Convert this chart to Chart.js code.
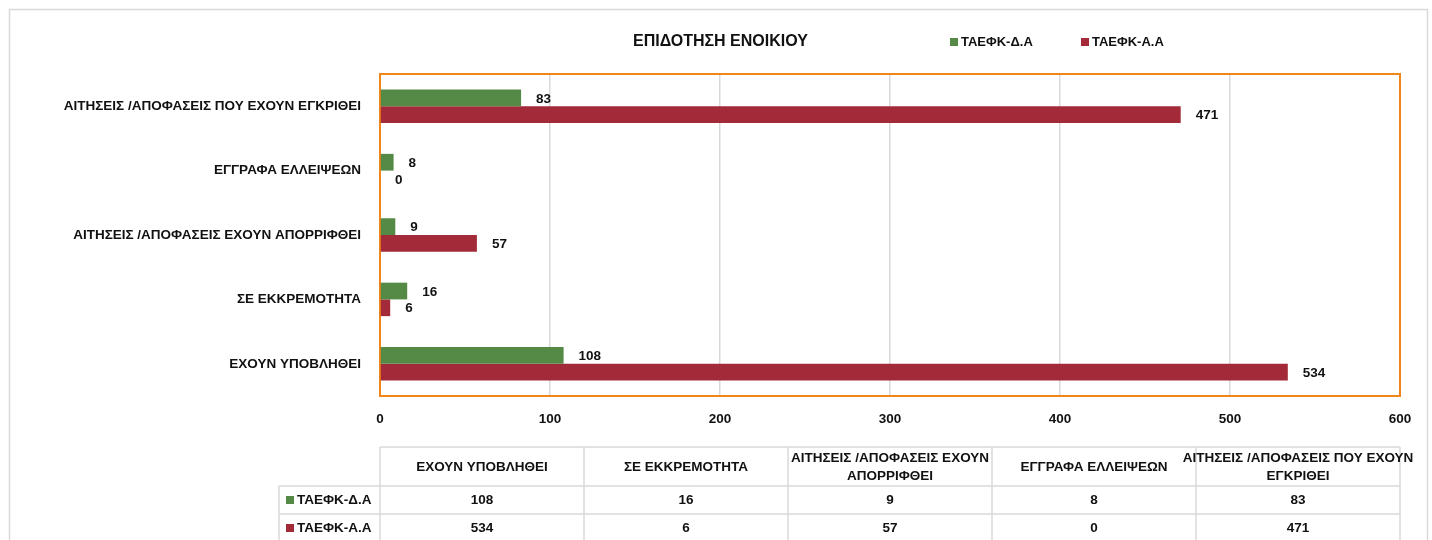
<!DOCTYPE html>
<html>
<head>
<meta charset="utf-8">
<script src="https://cdn.jsdelivr.net/npm/chart.js@4/dist/chart.umd.min.js"></script>
<style>
  html, body { margin: 0; padding: 0; background: #fff; }
  #wrap { width: 1432px; height: 540px; }
</style>
</head>
<body>
<div id="wrap"><canvas id="barChart" width="1432" height="540"></canvas></div>
<script>
// data in table order (Excel order, bottom to top in the chart)
var categories = ["ΕΧΟΥΝ ΥΠΟΒΛΗΘΕΙ", "ΣΕ ΕΚΚΡΕΜΟΤΗΤΑ", "ΑΙΤΗΣΕΙΣ /ΑΠΟΦΑΣΕΙΣ ΕΧΟΥΝ ΑΠΟΡΡΙΦΘΕΙ", "ΕΓΓΡΑΦΑ ΕΛΛΕΙΨΕΩΝ", "ΑΙΤΗΣΕΙΣ /ΑΠΟΦΑΣΕΙΣ ΠΟΥ ΕΧΟΥΝ ΕΓΚΡΙΘΕΙ"]
var seriesNames = ["ΤΑΕΦΚ-Δ.Α", "ΤΑΕΦΚ-Α.Α"]
var values_DA = [108, 16, 9, 8, 83]
var values_AA = [534, 6, 57, 0, 471]
var xTicks = [0, 100, 200, 300, 400, 500, 600]
var chartTitle = "ΕΠΙΔΟΤΗΣΗ ΕΝΟΙΚΙΟΥ"

var colors = ["#548A45", "#A32A39"]
var FONT = "'Liberation Sans', Arial, sans-serif"
var FS = 13.5
var txtColor = "#111"

function bold(size) {
  return "bold " + size + "px " + FONT
}

// plugin: frame, title, legend, plot border, data labels, table
var excelBits = {
  id: "excelBits",
  beforeDraw: function (chart) {
    var c = chart.ctx
    c.save()
    c.fillStyle = "#fff"
    c.fillRect(0, 0, chart.width, chart.height)
    c.strokeStyle = "#d9d9d9"
    c.lineWidth = 1.5
    c.strokeRect(9.5, 9.5, 1418, 545)
    // title + legend
    c.fillStyle = txtColor
    c.font = bold(16)
    c.textBaseline = "middle"
    c.textAlign = "left"
    c.fillText(chartTitle, 633, 42)
    var lx = [950, 1081]
    for (var i = 0; i < seriesNames.length; i++) {
      c.fillStyle = colors[i]
      c.fillRect(lx[i], 38, 8, 8)
      c.fillStyle = txtColor
      c.font = bold(13)
      c.fillText(seriesNames[i], lx[i] + 11, 42)
    }
    c.restore()
  },
  beforeDatasetsDraw: function (chart) {
    var a = chart.chartArea
    var c = chart.ctx
    c.save()
    c.strokeStyle = "#F08519"
    c.lineWidth = 2
    c.strokeRect(a.left, a.top, a.right - a.left, a.bottom - a.top)
    c.restore()
  },
  afterDatasetsDraw: function (chart) {
    var c = chart.ctx
    c.save()
    c.font = bold(FS)
    c.fillStyle = txtColor
    c.textAlign = "left"
    c.textBaseline = "middle"
    chart.data.datasets.forEach(function (ds, di) {
      var meta = chart.getDatasetMeta(di)
      meta.data.forEach(function (el, i) {
        c.fillText(String(ds.data[i]), el.x + 15, el.y + 1)
      })
    })
    c.restore()
  },
  afterDraw: function (chart) {
    var a = chart.chartArea
    var c = chart.ctx
    var colW = (a.right - a.left) / categories.length
    var top = 447, hdrBot = 486, rowH = 28
    var rowLeft = 279
    c.save()
    c.strokeStyle = "#d9d9d9"
    c.lineWidth = 1.5
    // grid of the table
    c.beginPath()
    c.moveTo(a.left, top); c.lineTo(a.right, top)
    c.moveTo(rowLeft, hdrBot); c.lineTo(a.right, hdrBot)
    c.moveTo(rowLeft, hdrBot + rowH); c.lineTo(a.right, hdrBot + rowH)
    c.moveTo(rowLeft, hdrBot + 2 * rowH); c.lineTo(a.right, hdrBot + 2 * rowH)
    c.moveTo(rowLeft, hdrBot); c.lineTo(rowLeft, 545)
    for (var k = 0; k <= categories.length; k++) {
      var x = a.left + k * colW
      c.moveTo(x, top); c.lineTo(x, 545)
    }
    c.stroke()

    c.font = bold(FS)
    c.fillStyle = txtColor
    c.textBaseline = "middle"
    c.textAlign = "center"
    // header, wrapped when it does not fit
    categories.forEach(function (cat, i) {
      var cx = a.left + i * colW + colW / 2
      if (c.measureText(cat).width > colW - 6) {
        var words = cat.split(" ")
        var last = words.pop()
        c.fillText(words.join(" "), cx, 458)
        c.fillText(last, cx, 476)
      } else {
        c.fillText(cat, cx, 467)
      }
    })
    // rows
    var rows = [values_DA, values_AA]
    rows.forEach(function (vals, r) {
      var cy = hdrBot + r * rowH + rowH / 2
      c.fillStyle = colors[r]
      c.fillRect(286, cy - 4, 8, 8)
      c.fillStyle = txtColor
      c.textAlign = "left"
      c.fillText(seriesNames[r], 297, cy)
      c.textAlign = "center"
      vals.forEach(function (v, i) {
        c.fillText(String(v), a.left + i * colW + colW / 2, cy)
      })
    })
    c.restore()
  },
}

var ctx = document.getElementById("barChart")
var chart_bar = new Chart(ctx, {
  type: "bar",
  plugins: [excelBits],
  data: {
    labels: categories.slice().reverse(),
    datasets: [
      {
        label: seriesNames[0],
        data: values_DA.slice().reverse(),
        backgroundColor: colors[0],
        borderWidth: 0,
      },
      {
        label: seriesNames[1],
        data: values_AA.slice().reverse(),
        backgroundColor: colors[1],
        borderWidth: 0,
      },
    ],
  },
  options: {
    indexAxis: "y",
    responsive: false,
    animation: false,
    datasets: {
      bar: {
        categoryPercentage: 0.52,
        barPercentage: 1,
      },
    },
    layout: {
      padding: { left: 0, top: 74, right: 32, bottom: 0 },
    },
    scales: {
      x: {
        min: 0,
        max: 600,
        afterFit: function (s) { s.height = 144 },
        afterBuildTicks: function (s) {
          s.ticks = xTicks.map(function (v) { return { value: v } })
        },
        grid: { color: "#d9d9d9", lineWidth: 1.5, drawTicks: false },
        border: { display: false },
        ticks: {
          padding: 15,
          color: txtColor,
          font: { family: FONT, size: FS, weight: "bold" },
        },
      },
      y: {
        afterFit: function (s) { s.width = 380 },
        grid: { display: false, drawTicks: false },
        border: { display: false },
        ticks: {
          padding: 19,
          color: txtColor,
          font: { family: FONT, size: FS, weight: "bold" },
        },
      },
    },
    plugins: {
      legend: { display: false },
      title: { display: false },
      tooltip: { enabled: false },
    },
  },
})
</script>
</body>
</html>
